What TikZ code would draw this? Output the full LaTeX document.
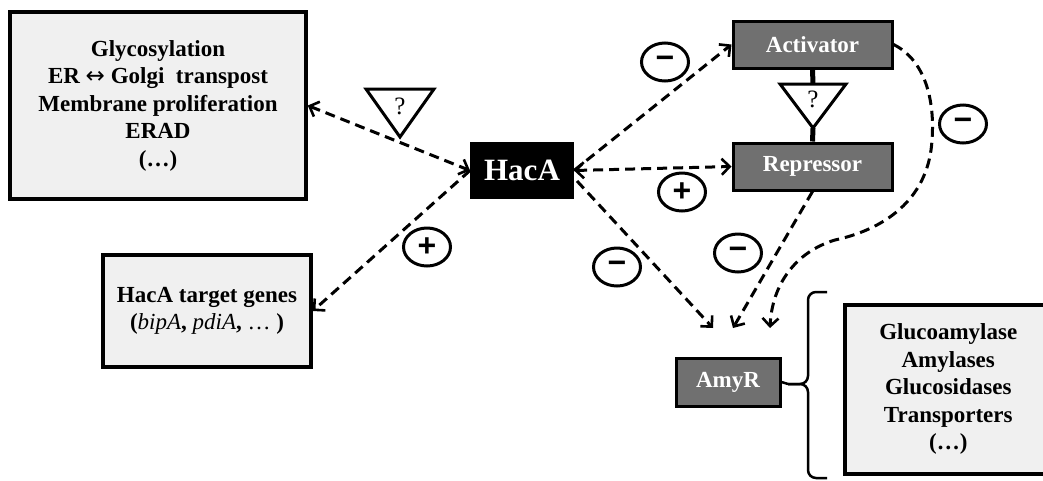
\documentclass[tikz,border=0pt]{standalone}
\usepackage{fontspec}
\setmainfont{Liberation Serif}
\newfontfamily\signfont{Liberation Sans}
\newfontfamily\dejavu{DejaVu Sans}
\usetikzlibrary{arrows.meta,calc,shapes.geometric}
\definecolor{lightbox}{RGB}{240,240,240}
\definecolor{darkbox}{RGB}{112,112,112}
\begin{document}
\begin{tikzpicture}[x=1pt,y=-1pt,
  >={Straight Barb[length=8pt,width=16pt,line width=2.6pt]},
  lbox/.style={draw, line width=3.5pt, fill=lightbox, align=center, inner sep=0pt,
    font=\bfseries\fontsize{23}{27.5}\selectfont},
  dbox/.style={draw, line width=3pt, fill=darkbox, text=white, inner sep=0pt,
    font=\bfseries\fontsize{23}{27.5}\selectfont},
  sign/.style={draw, ellipse, line width=3pt, minimum width=47pt, minimum height=38pt,
    inner sep=0pt, font=\signfont\bfseries\fontsize{32}{32}\selectfont},
  dar/.style={line width=3pt, dash pattern=on 10pt off 6pt},
  tri/.style={draw, line width=3pt, line join=miter, fill=white},
  qmark/.style={font=\fontsize{25}{25}\selectfont},
  link/.style={line width=5pt}
]
\useasboundingbox (0,0) rectangle (1043,480);

% boxes
\node[lbox, minimum width=296pt, minimum height=187pt] (box1) at (158,105.5)
  {Glycosylation\\ ER {\dejavu\mdseries ↔} Golgi\ \ transpost\\ Membrane proliferation\\ ERAD\\ (…)};
\node[lbox, minimum width=208pt, minimum height=112pt] (targets) at (207,311)
  {HacA target genes\\ ({\mdseries\itshape bipA}, {\mdseries\itshape pdiA}, {\mdseries …} )};
\node[draw, fill=black, line width=2pt, minimum width=102pt, minimum height=55pt, inner sep=0pt,
  text=white, font=\bfseries\fontsize{31}{31}\selectfont] (haca) at (522,170.5) {HacA};
\node[dbox, minimum width=159pt, minimum height=47pt] (act) at (812.5,44.5) {Activator};
\node[dbox, minimum width=159pt, minimum height=47pt] (rep) at (812.5,166.5) {Repressor};
\node[dbox, minimum width=104pt, minimum height=48pt] (amyr) at (728,382) {AmyR};
\node[lbox, minimum width=207pt, minimum height=169pt, anchor=north west] (rbox) at (843,303)
  {Glucoamylase\\ Amylases\\ Glucosidases\\ Transporters\\ (…)};

% coordinates
\coordinate (h1) at (577,181);
\coordinate (e1) at (713,328);
\coordinate (e2) at (733,328);
\coordinate (e3) at (770,328);
\coordinate (m1) at (780,84);
\coordinate (m2) at (846,84);
\coordinate (m3) at (813,128);
\coordinate (l1) at (366,89);
\coordinate (l2) at (434,89);
\coordinate (l3) at (400,137);

% connectors
\draw[dar, <->] (box1.east) -- (haca.west);
\draw[dar, ->] (haca.west) -- (targets.east);
\draw[dar, <->] (haca.east) -- (rep.west);
\draw[dar, ->] (haca.east) -- (act.west);
\draw[dar, ->] (h1) -- (e1);
\draw[dar, ->] (rep.south) -- (e2);
\draw[dar, ->] (act.east) .. controls (925,60) and (935,100) .. (932,140)
  .. controls (929,195) and (890,228) .. (835,240)
  .. controls (795,252) and (772,285) .. (e3);

% triangles with question marks
\draw[tri] (l1) -- (l2) -- (l3) -- cycle;
\node[qmark] (q1) at (400,106) {?};
\draw[link] (act.south) -- ($(m1)!0.5!(m2)$);
\draw[link] (m3) -- (rep.north);
\draw[tri] (m1) -- (m2) -- (m3) -- cycle;
\node[qmark] (q2) at (813,99) {?};

% signs
\node[sign] (s1) at (665,62) {−};
\node[sign] (s2) at (682,192) {+};
\node[sign] (s3) at (427,247) {+};
\node[sign] (s4) at (617,267) {−};
\node[sign] (s5) at (738,253) {−};
\node[sign] (s6) at (963,124) {−};

% brace
\coordinate (b0) at (788,384);
\draw[line width=2.5pt, rounded corners=8pt] (827,292) -- (808,292) -- (808,384) -- (b0);
\draw[line width=2.5pt, rounded corners=8pt] (b0) -- (808,384) -- (808,478) -- (827,478);
\draw[line width=2.5pt] (amyr.east) -- (b0);
\end{tikzpicture}
\end{document}
